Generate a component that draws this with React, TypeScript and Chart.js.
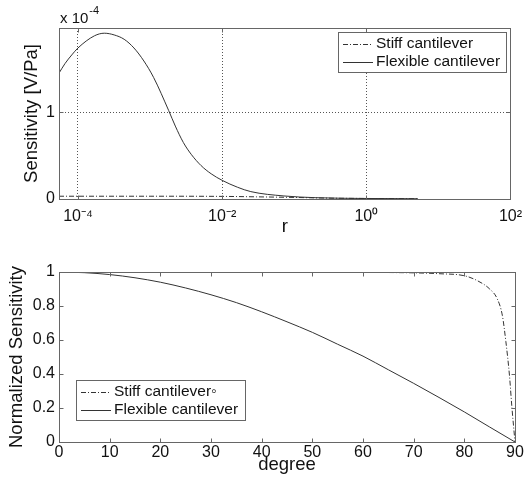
import React, { useEffect, useRef } from 'react';
import { Chart, registerables } from 'chart.js';

Chart.register(...registerables);

const FONT_FAMILY = '"Liberation Sans", Arial, Helvetica, sans-serif';

// ---------- Top chart: Sensitivity (x 1e-4 V/Pa) vs r ----------
const flexR = [5.45e-5, 6.6e-5, 8.2e-5, 1e-4, 1.69e-4, 2.32e-4, 3.18e-4, 4.37e-4, 5.97e-4, 8.2e-4, 1.12e-3, 1.81e-3, 2.24e-3, 2.9e-3, 3.76e-3, 5.1e-3, 7.05e-3, 1e-2, 1.64e-2, 2.5e-2, 7.2e-2, 0.2, 1, 5.2];
const flexSens = [1.45, 1.56, 1.66, 1.74, 1.88, 1.91, 1.89, 1.84, 1.74, 1.59, 1.40, 1.02, 0.84, 0.65, 0.51, 0.385, 0.29, 0.215, 0.135, 0.085, 0.035, 0.015, 0.006, 0.003];
const stiffR = [5.45e-5, 1e-4, 1e-3, 1e-2, 3e-2, 0.1, 0.3, 1, 5.2];
const stiffSens = [0.032, 0.032, 0.032, 0.03, 0.025, 0.018, 0.01, 0.006, 0.003];
const topXTicks = [1e-4, 1e-2, 1, 100];
const topXTickLabels = ['10⁻⁴', '10⁻²', '10⁰', '10²'];
const topYTicks = [0, 1];
const topYTickLabels = ['0', '1'];
const topExponentBase = 'x 10';
const topExponentPower = '-4';
const topXTitle = 'r';
const topYTitle = 'Sensitivity [V/Pa]';
const topLegend = ['Stiff cantilever', 'Flexible cantilever'];

// ---------- Bottom chart: Normalized sensitivity vs degree ----------
const degFlex = [0, 5, 10, 15, 20, 25, 30, 35, 40, 45, 50, 55, 60, 65, 70, 75, 80, 85, 90];
const normFlex = [1, 0.996, 0.985, 0.966, 0.94, 0.906, 0.866, 0.82, 0.766, 0.707, 0.645, 0.575, 0.505, 0.425, 0.345, 0.262, 0.177, 0.088, 0];
const degStiff = [0, 20, 40, 60, 65, 70, 75, 80, 82.5, 85, 86.5, 87.5, 88.2, 88.9, 89.4, 90];
const normStiff = [1, 1, 1, 0.999, 0.997, 0.995, 0.99, 0.978, 0.95, 0.9, 0.842, 0.745, 0.59, 0.394, 0.2, 0];
const bottomXTicks = [0, 10, 20, 30, 40, 50, 60, 70, 80, 90];
const bottomYTicks = [0, 0.2, 0.4, 0.6, 0.8, 1];
const bottomXTitle = 'degree';
const bottomYTitle = 'Normalized Sensitivity';
const bottomLegend = ['Stiff cantilever◦', 'Flexible cantilever'];

const LINE_COLOR = '#333';
const FRAME_COLOR = '#666';
const TEXT_COLOR = '#111';
const STIFF_DASH = [5, 2, 1, 2];

type Box = { x: number; y: number; w: number; h: number };

function makeDecor(cfg: {
  legendLabels: string[];
  legendBox: (ca: any) => Box;
  exponent: boolean;
}) {
  return {
    id: 'decor',
    afterDraw(chart: any) {
      const { ctx, chartArea: ca, scales } = chart;
      const L = Math.round(ca.left) + 0.5;
      const R = Math.round(ca.right) + 0.5;
      const T = Math.round(ca.top) + 0.5;
      const B = Math.round(ca.bottom) + 0.5;
      const tickLen = 4;
      ctx.save();
      ctx.setLineDash([]);
      ctx.strokeStyle = FRAME_COLOR;
      ctx.lineWidth = 1;
      ctx.strokeRect(L, T, R - L, B - T);
      ctx.beginPath();
      for (const t of scales.x.ticks) {
        const px = Math.round(scales.x.getPixelForValue(t.value)) + 0.5;
        ctx.moveTo(px, B);
        ctx.lineTo(px, B - tickLen);
        ctx.moveTo(px, T);
        ctx.lineTo(px, T + tickLen);
      }
      for (const t of scales.y.ticks) {
        const py = Math.round(scales.y.getPixelForValue(t.value)) + 0.5;
        ctx.moveTo(L, py);
        ctx.lineTo(L + tickLen, py);
        ctx.moveTo(R, py);
        ctx.lineTo(R - tickLen, py);
      }
      ctx.stroke();

      const lb = cfg.legendBox(ca);
      ctx.fillStyle = '#fff';
      ctx.fillRect(lb.x, lb.y, lb.w, lb.h);
      ctx.strokeStyle = FRAME_COLOR;
      ctx.strokeRect(lb.x + 0.5, lb.y + 0.5, lb.w, lb.h);
      const rowY = [lb.y + 12, lb.y + 30];
      chart.data.datasets.forEach((ds: any, i: number) => {
        const y = Math.round(rowY[i]) + 0.5;
        ctx.save();
        ctx.strokeStyle = ds.borderColor;
        ctx.lineWidth = 1;
        ctx.setLineDash(ds.borderDash || []);
        ctx.beginPath();
        ctx.moveTo(lb.x + 5, y);
        ctx.lineTo(lb.x + 35, y);
        ctx.stroke();
        ctx.restore();
        ctx.fillStyle = TEXT_COLOR;
        ctx.font = `15.5px ${FONT_FAMILY}`;
        ctx.textAlign = 'left';
        ctx.textBaseline = 'middle';
        ctx.fillText(cfg.legendLabels[i], lb.x + 38, rowY[i]);
      });

      if (cfg.exponent) {
        ctx.fillStyle = TEXT_COLOR;
        ctx.textAlign = 'left';
        ctx.textBaseline = 'alphabetic';
        ctx.font = `15px ${FONT_FAMILY}`;
        ctx.fillText(topExponentBase, ca.left + 1, 23);
        const w = ctx.measureText(topExponentBase).width;
        ctx.font = `11px ${FONT_FAMILY}`;
        ctx.fillText(topExponentPower, ca.left + 2 + w, 14);
      }
      ctx.restore();
    },
  };
}

const tickFont = { family: FONT_FAMILY, size: 16 };
const titleFont = { family: FONT_FAMILY, size: 18.5 };

function TopChart() {
  const ref = useRef<HTMLCanvasElement | null>(null);
  useEffect(() => {
    if (!ref.current) return;
    const chart = new Chart(ref.current, {
      type: 'line',
      data: {
        datasets: [
          {
            label: topLegend[0],
            data: stiffR.map((r, i) => ({ x: r, y: stiffSens[i] })),
            borderColor: LINE_COLOR,
            borderWidth: 1,
            borderDash: STIFF_DASH,
            pointRadius: 0,
            fill: false,
            cubicInterpolationMode: 'monotone',
          },
          {
            label: topLegend[1],
            data: flexR.map((r, i) => ({ x: r, y: flexSens[i] })),
            borderColor: LINE_COLOR,
            borderWidth: 1,
            pointRadius: 0,
            fill: false,
            cubicInterpolationMode: 'monotone',
          },
        ],
      },
      options: {
        responsive: false,
        maintainAspectRatio: false,
        animation: false,
        events: [],
        layout: { padding: { left: 0, top: 28, right: 14, bottom: 0 } },
        plugins: { legend: { display: false }, tooltip: { enabled: false } },
        scales: {
          x: {
            type: 'logarithmic',
            min: 5.45e-5,
            max: 100,
            afterBuildTicks: (s: any) => {
              s.ticks = topXTicks.map((v) => ({ value: v }));
            },
            afterFit: (s: any) => {
              s.height = 41;
            },
            ticks: {
              autoSkip: false,
              maxRotation: 0,
              padding: 8,
              color: TEXT_COLOR,
              font: tickFont,
              callback: (v: any) => {
                const idx = topXTicks.indexOf(Number(v));
                return idx >= 0 ? topXTickLabels[idx] : '';
              },
            },
            grid: { display: true, drawTicks: false, color: '#555', lineWidth: 1 },
            border: { display: false, dash: [1, 2] },
            title: { display: true, text: topXTitle, color: TEXT_COLOR, font: titleFont, padding: { top: 0, bottom: 2 } },
          },
          y: {
            type: 'linear',
            min: 0,
            max: 1.97,
            afterBuildTicks: (s: any) => {
              s.ticks = topYTicks.map((v) => ({ value: v }));
            },
            afterFit: (s: any) => {
              s.width = 59;
            },
            ticks: {
              autoSkip: false,
              padding: 4,
              color: TEXT_COLOR,
              font: tickFont,
              callback: (v: any) => {
                const idx = topYTicks.indexOf(Number(v));
                return idx >= 0 ? topYTickLabels[idx] : '';
              },
            },
            grid: { display: true, drawTicks: false, color: '#555', lineWidth: 1 },
            border: { display: false, dash: [1, 2] },
            title: { display: true, text: topYTitle, color: TEXT_COLOR, font: titleFont, padding: { top: 21, bottom: 0 } },
          },
        },
      } as any,
      plugins: [
        makeDecor({
          legendLabels: topLegend,
          legendBox: (ca: any) => ({ x: Math.round(ca.right) - 172, y: Math.round(ca.top) + 4, w: 168, h: 40 }),
          exponent: true,
        }),
      ],
    });
    return () => chart.destroy();
  }, []);
  return <canvas ref={ref} width={530} height={240} style={{ display: 'block', width: 530, height: 240 }} />;
}

function BottomChart() {
  const ref = useRef<HTMLCanvasElement | null>(null);
  useEffect(() => {
    if (!ref.current) return;
    const chart = new Chart(ref.current, {
      type: 'line',
      data: {
        datasets: [
          {
            label: bottomLegend[0],
            data: degStiff.map((d, i) => ({ x: d, y: normStiff[i] })),
            borderColor: LINE_COLOR,
            borderWidth: 1,
            borderDash: STIFF_DASH,
            pointRadius: 0,
            fill: false,
            cubicInterpolationMode: 'monotone',
          },
          {
            label: bottomLegend[1],
            data: degFlex.map((d, i) => ({ x: d, y: normFlex[i] })),
            borderColor: LINE_COLOR,
            borderWidth: 1,
            pointRadius: 0,
            fill: false,
            cubicInterpolationMode: 'monotone',
          },
        ],
      },
      options: {
        responsive: false,
        maintainAspectRatio: false,
        animation: false,
        events: [],
        layout: { padding: { left: 0, top: 32, right: 15, bottom: 0 } },
        plugins: { legend: { display: false }, tooltip: { enabled: false } },
        scales: {
          x: {
            type: 'linear',
            min: 0,
            max: 90,
            afterBuildTicks: (s: any) => {
              s.ticks = bottomXTicks.map((v) => ({ value: v }));
            },
            afterFit: (s: any) => {
              s.height = 41;
            },
            ticks: {
              autoSkip: false,
              maxRotation: 0,
              padding: 1,
              color: TEXT_COLOR,
              font: tickFont,
              callback: (v: any) => String(v),
            },
            grid: { display: false, drawTicks: false },
            border: { display: false },
            title: { display: true, text: bottomXTitle, color: TEXT_COLOR, font: titleFont, padding: { top: 0, bottom: 7 } },
          },
          y: {
            type: 'linear',
            min: 0,
            max: 1,
            afterBuildTicks: (s: any) => {
              s.ticks = bottomYTicks.map((v) => ({ value: v }));
            },
            afterFit: (s: any) => {
              s.width = 59;
            },
            ticks: {
              autoSkip: false,
              padding: 4,
              color: TEXT_COLOR,
              font: tickFont,
              callback: (v: any) => String(Math.round(Number(v) * 10) / 10),
            },
            grid: { display: false, drawTicks: false },
            border: { display: false },
            title: { display: true, text: bottomYTitle, color: TEXT_COLOR, font: titleFont, padding: { top: 5.5, bottom: 0 } },
          },
        },
      } as any,
      plugins: [
        makeDecor({
          legendLabels: bottomLegend,
          legendBox: (ca: any) => ({ x: Math.round(ca.left) + 17, y: Math.round(ca.bottom) - 62, w: 169, h: 40 }),
          exponent: false,
        }),
      ],
    });
    return () => chart.destroy();
  }, []);
  return <canvas ref={ref} width={530} height={243} style={{ display: 'block', width: 530, height: 243 }} />;
}

export default function App() {
  return (
    <div style={{ position: 'absolute', left: 0, top: 0, width: 530, height: 483, background: '#fff' }}>
      <TopChart />
      <BottomChart />
    </div>
  );
}
